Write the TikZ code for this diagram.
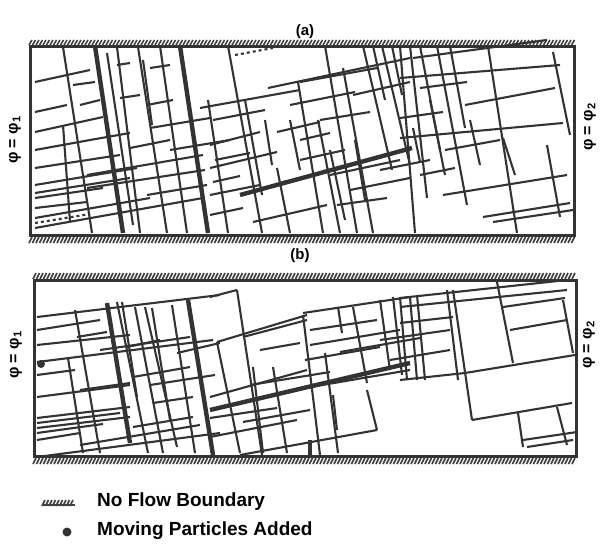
\documentclass[tikz,border=0pt]{standalone}
\usepackage{fontspec}
\setmainfont{Liberation Sans}
\usepackage{tikz}
\usetikzlibrary{positioning}

\begin{document}
\begin{tikzpicture}[x=1pt,y=-1pt,
frac/.style={draw=black!80, line width=2.1pt},
thickfrac/.style={draw=black!80, line width=4.4pt},
boundary/.style={draw=black!80, line width=3pt},
hatch/.style={draw=black!75, line width=1.6pt},
caption/.style={font=\bfseries\fontsize{15}{15}\selectfont, inner sep=0pt},
potential/.style={font=\bfseries\fontsize{16}{16}\selectfont, rotate=90, inner sep=0pt},
legendtext/.style={font=\bfseries\fontsize{19}{19}\selectfont, inner sep=0pt, anchor=west},
]
\useasboundingbox (0,0) rectangle (605,546);

%Captions
\node[caption] (capa) at (305,32) {(a)};
\node[caption] (capb) at (300,256) {(b)};
\node[potential] (leftpa) at (15,140) {φ = φ\textsubscript{1}};
\node[potential] (rightpa) at (590,127) {φ = φ\textsubscript{2}};
\node[potential] (leftpb) at (16,355) {φ = φ\textsubscript{1}};
\node[potential] (rightpb) at (589,345) {φ = φ\textsubscript{2}};

%Frames
\draw[boundary] (30,46) rectangle (574,235);
\draw[boundary] (34,280) rectangle (576,456);
\foreach \x in {29,32.5,...,574} {
  \draw[hatch] (\x,45) -- ++(3,-5);
  \draw[hatch] (\x,243) -- ++(3,-6);
}
\foreach \x in {33,36.5,...,574} {
  \draw[hatch] (\x,279) -- ++(3,-6);
  \draw[hatch] (\x,464) -- ++(3,-6);
}

%Fractures (a)
\foreach \a/\b/\c/\d in {63/47/92/233, 107/53/133/225, 117/47/140/233, 138/47/167/233,
  160/46/187/233, 63/125/70/222, 208/100/228/233, 143/60/152/125, 228/46/262/233,
  265/120/272/165, 298/82/323/233, 318/120/340/233, 325/46/357/233, 343/68/373/233,
  363/46/392/170, 373/46/385/100, 382/46/410/165, 392/46/402/95, 400/46/415/233,
  410/46/427/198, 420/46/440/150, 437/46/467/205, 450/46/465/128, 488/46/517/233,
  553/52/570/135, 547/145/560/217, 503/138/515/175, 413/128/420/162, 277/168/290/233,
  245/100/262/195, 290/120/300/170, 330/150/345/220, 355/140/365/200, 430/100/445/175,
  470/120/480/165}
  \draw[frac] (\a,\b) -- (\c,\d);
\foreach \a/\b/\c/\d in {35/82/90/70, 73/85/95/82, 35/112/67/105, 80/105/100/100,
  35/132/103/117, 117/65/130/63, 150/68/170/65, 120/98/140/95, 147/105/173/100,
  35/168/120/155, 130/148/170/140, 35/185/137/168, 35/193/130/178, 35/198/103/188,
  35/208/87/202, 35/228/203/198, 87/175/203/155, 87/188/205/170, 147/195/207/185,
  35/218/150/198, 150/128/210/118, 170/150/230/140, 200/108/300/90, 268/88/410/58,
  300/82/377/68, 210/145/260/132, 277/132/320/122, 320/120/370/112, 353/95/410/82,
  210/168/277/152, 210/195/260/185, 283/182/310/177, 210/215/243/208,
  253/222/327/205, 337/205/387/198, 413/58/547/40, 400/78/560/65, 420/88/467/82,
  465/105/555/88, 400/138/563/123, 443/195/567/175, 483/217/570/203, 493/222/573/210,
  400/118/443/112, 35/150/90/140, 90/140/130/133, 213/120/265/110, 290/105/355/92,
  215/160/250/153, 300/160/345/150, 330/175/400/160, 350/190/410/178, 380/170/430/160,
  420/175/455/168, 445/150/500/140, 300/140/330/133, 213/182/240/176}
  \draw[frac] (\a,\b) -- (\c,\d);
\draw[frac, dashed] (235,55) -- (273,48);
\draw[frac, dashed] (35,223) -- (90,214);
\foreach \a/\b/\c/\d in {95/46/123/233, 180/46/208/233, 240/195/412/148}
  \draw[thickfrac] (\a,\b) -- (\c,\d);

%Fractures (b)
\foreach \a/\b/\c/\d in {75/310/100/453, 68/358/83/453, 117/302/148/453, 122/302/137/397,
  135/307/163/453, 145/307/177/447, 152/308/170/420, 172/305/195/453, 237/290/262/455,
  217/342/240/453, 253/367/263/453, 273/367/287/453, 303/315/320/455, 325/353/338/453,
  333/395/337/430, 367/390/377/430, 338/307/342/333, 353/307/367/383, 380/300/390/370,
  393/297/402/375, 400/297/407/380, 410/297/417/380, 417/295/425/380, 447/290/458/380,
  453/290/472/420, 497/282/513/363, 563/300/573/353, 518/413/523/447, 557/407/567/445}
  \draw[frac] (\a,\b) -- (\c,\d);
\foreach \a/\b/\c/\d in {37/317/220/295, 37/345/130/335, 37/362/213/340, 77/337/107/332,
  127/347/160/340, 37/397/130/385, 37/418/130/407, 37/423/120/413, 37/428/130/417,
  37/433/103/424, 37/457/220/433, 133/377/190/367, 133/427/193/417, 153/403/193/397,
  177/353/220/343, 210/297/237/290, 217/342/307/315, 243/337/307/320, 303/313/410/297,
  310/330/377/320, 210/397/307/370, 210/418/277/408, 243/422/310/410, 293/390/410/370,
  210/437/297/420, 240/455/377/430, 400/298/567/280, 400/307/567/290, 400/323/453/317,
  400/380/465/373, 465/373/575/355, 472/420/572/403, 510/330/567/320, 503/307/565/298,
  523/440/577/432, 527/447/573/440, 380/340/450/330, 390/360/450/350,
  37/330/100/320, 80/390/130/383, 80/445/200/425, 37/440/80/433, 150/385/215/375,
  100/350/190/337, 37/375/75/370, 310/345/400/330, 340/352/420/338, 305/360/380/347,
  250/385/330/372, 260/350/300/343}
  \draw[frac] (\a,\b) -- (\c,\d);
\foreach \a/\b/\c/\d in {107/303/130/443, 188/300/213/455, 210/410/410/363, 310/440/310/455}
  \draw[thickfrac] (\a,\b) -- (\c,\d);
\fill[black!80] (41,364) circle (4);

%Legend
\draw[hatch, line width=1.4pt] (42,505) -- (75,505);
\foreach \x in {42,45.5,...,72}
  \draw[hatch] (\x,506) -- ++(3,-6);
\node[legendtext] (noflow) at (97,502) {No Flow Boundary};
\fill[black!80] (67,532) circle (4.5);
\node[legendtext] (moving) [below=10pt of noflow.south west, anchor=north west] {Moving Particles Added};
\end{tikzpicture}
\end{document}
